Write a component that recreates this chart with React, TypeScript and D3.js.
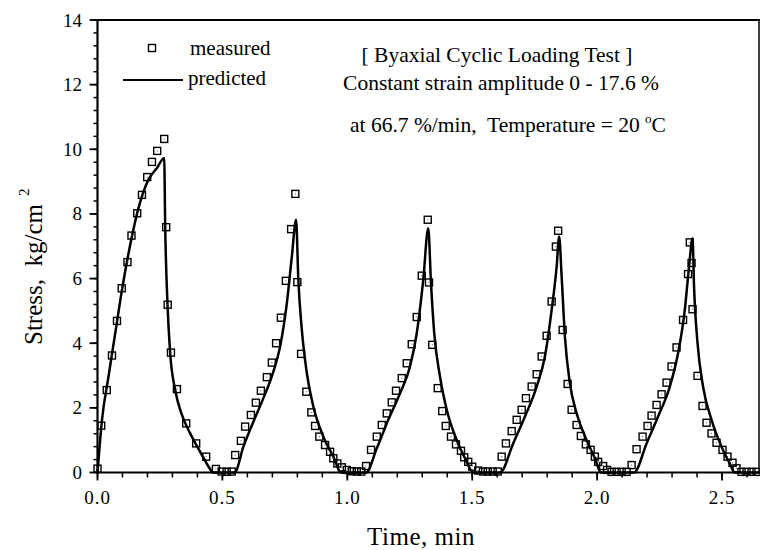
import React from 'react'
import * as d3 from 'd3'

// measured stress (kg/cm2) vs time (min)
const measuredTime = [
  0.000, 0.015, 0.037, 0.058, 0.078, 0.097, 0.120, 0.136, 0.159, 0.178, 0.199, 0.218, 0.239, 0.267,
  0.275, 0.281, 0.294, 0.318, 0.355, 0.395, 0.435, 0.474, 0.497, 0.517, 0.537,
  0.551, 0.574, 0.591, 0.614, 0.634, 0.654, 0.678, 0.698, 0.715, 0.734, 0.754, 0.775, 0.792,
  0.800, 0.815, 0.836, 0.856, 0.871, 0.888, 0.911, 0.931, 0.944, 0.960, 0.978, 0.998, 1.018, 1.038, 1.056,
  1.075, 1.095, 1.118, 1.138, 1.158, 1.178, 1.195, 1.218, 1.238, 1.258, 1.278, 1.298, 1.322,
  1.327, 1.340, 1.362, 1.380, 1.394, 1.415, 1.435, 1.455, 1.468, 1.484, 1.500, 1.524, 1.543, 1.562, 1.582, 1.602,
  1.618, 1.635, 1.658, 1.678, 1.698, 1.715, 1.738, 1.758, 1.778, 1.798, 1.818, 1.835, 1.844,
  1.862, 1.882, 1.898, 1.918, 1.935, 1.955, 1.974, 1.991, 2.004, 2.024, 2.040, 2.058, 2.078, 2.098, 2.118,
  2.138, 2.158, 2.182, 2.202, 2.218, 2.238, 2.258, 2.278, 2.298, 2.318, 2.344, 2.364, 2.371,
  2.378, 2.382, 2.402, 2.422, 2.438, 2.458, 2.478, 2.502, 2.522, 2.542, 2.558, 2.578, 2.598, 2.618, 2.638,
]
const measuredStress = [
  0.12, 1.45, 2.55, 3.62, 4.69, 5.70, 6.51, 7.33, 8.02, 8.59, 9.14, 9.61, 9.95, 10.32,
  7.59, 5.19, 3.71, 2.58, 1.52, 0.90, 0.49, 0.11, 0.03, 0.02, 0.03,
  0.54, 0.98, 1.42, 1.78, 2.16, 2.53, 2.95, 3.40, 4.00, 4.79, 5.93, 7.53, 8.62,
  5.89, 3.67, 2.50, 1.86, 1.44, 1.11, 0.85, 0.64, 0.44, 0.28, 0.16, 0.08, 0.04, 0.03, 0.03,
  0.20, 0.70, 1.11, 1.47, 1.83, 2.17, 2.53, 2.92, 3.38, 3.97, 4.81, 6.09, 7.82,
  5.88, 3.95, 2.61, 1.90, 1.44, 1.11, 0.87, 0.67, 0.47, 0.33, 0.18, 0.06, 0.03, 0.03, 0.03, 0.03,
  0.49, 0.90, 1.28, 1.63, 1.94, 2.30, 2.66, 3.04, 3.59, 4.23, 5.29, 6.99, 7.48,
  4.41, 2.74, 1.94, 1.47, 1.13, 0.87, 0.70, 0.49, 0.33, 0.20, 0.08, 0.02, 0.02, 0.02, 0.02,
  0.23, 0.72, 1.11, 1.44, 1.76, 2.09, 2.42, 2.78, 3.28, 3.87, 4.72, 6.14, 7.12,
  6.48, 5.05, 2.99, 2.06, 1.54, 1.21, 0.92, 0.70, 0.49, 0.30, 0.13, 0.02, 0.02, 0.02, 0.02,
]

// model prediction
const predictedTime = [
  0.000, 0.018, 0.044, 0.071, 0.098, 0.131, 0.164, 0.204, 0.238, 0.267,
  0.271, 0.280, 0.291, 0.311, 0.338, 0.371, 0.411, 0.451, 0.460,
  0.549, 0.584, 0.624, 0.664, 0.704, 0.731, 0.758, 0.778, 0.795,
  0.804, 0.818, 0.838, 0.864, 0.904, 0.944, 0.975,
  1.075, 1.118, 1.164, 1.211, 1.251, 1.278, 1.304, 1.324,
  1.335, 1.348, 1.371, 1.398, 1.438, 1.471, 1.504,
  1.612, 1.664, 1.711, 1.758, 1.791, 1.818, 1.838, 1.848,
  1.858, 1.871, 1.891, 1.918, 1.958, 1.991, 2.015,
  2.148, 2.198, 2.244, 2.291, 2.324, 2.351, 2.368, 2.382,
  2.388, 2.402, 2.424, 2.458, 2.498, 2.531, 2.551, 2.650,
]
const predictedStress = [
  0.00, 1.63, 2.97, 4.31, 5.65, 7.05, 8.18, 9.06, 9.42, 9.73,
  7.61, 5.24, 3.69, 2.55, 1.78, 1.21, 0.64, 0.10, 0.00,
  0.00, 0.80, 1.57, 2.30, 3.12, 3.90, 5.24, 6.68, 7.82,
  5.96, 4.41, 3.07, 2.04, 1.11, 0.49, 0.00,
  0.00, 0.75, 1.63, 2.45, 3.28, 4.31, 5.96, 7.56,
  5.86, 4.31, 2.97, 1.94, 1.00, 0.44, 0.00,
  0.00, 0.90, 1.73, 2.66, 3.59, 5.03, 6.37, 7.30,
  6.06, 4.21, 2.76, 1.83, 1.00, 0.44, 0.00,
  0.00, 0.90, 1.73, 2.66, 3.69, 5.03, 6.37, 7.25,
  5.75, 4.00, 2.66, 1.63, 0.80, 0.28, 0.00, 0.00,
]

const xMajor = [0, 0.5, 1.0, 1.5, 2.0, 2.5]
const yMajor = [0, 2, 4, 6, 8, 10, 12, 14]

const FONT = '"Liberation Serif", "Times New Roman", serif'

export default function App() {
  const x = d3.scaleLinear().domain([0, 2.65]).range([97.5, 759.5])
  const y = d3.scaleLinear().domain([0, 14]).range([472.5, 20])

  const xMinor = d3.range(0, 2.65, 0.1)
  const yMinor = d3.range(0, 14.01, 0.4)

  const predicted = predictedTime.map((t, i) => [t, predictedStress[i]] as [number, number])
  const line = d3.line<[number, number]>()
    .x(d => x(d[0]))
    .y(d => y(d[1]))
    .curve(d3.curveMonotoneX)

  return (
    <svg width={760} height={550} style={{ position: 'absolute', left: 0, top: 0, background: '#fff' }}
      fontFamily={FONT}>
      {/* frame */}
      <line x1={x(0)} x2={x(0)} y1={y(14)} y2={y(0) + 1} stroke="#000" strokeWidth={2.2} />
      <line x1={x(0) - 1} x2={760} y1={y(0)} y2={y(0)} stroke="#000" strokeWidth={2.2} />
      <line x1={x(0)} x2={760} y1={y(14)} y2={y(14)} stroke="#000" strokeWidth={2} />
      <line x1={759} x2={759} y1={y(14)} y2={y(0)} stroke="#000" strokeWidth={1.5} />

      {/* y ticks */}
      {yMinor.map((v, i) => (
        <line key={'ym' + i} x1={x(0) - 4} x2={x(0)} y1={y(v)} y2={y(v)} stroke="#000" strokeWidth={1.5} />
      ))}
      {yMajor.map(v => (
        <g key={'y' + v}>
          <line x1={x(0) - 8} x2={x(0)} y1={y(v)} y2={y(v)} stroke="#000" strokeWidth={1.8} />
          <text x={82} y={y(v) + 6.5} textAnchor="end" fontSize={19}>{v}</text>
        </g>
      ))}

      {/* x ticks */}
      {xMinor.map((v, i) => (
        <line key={'xm' + i} x1={x(v)} x2={x(v)} y1={y(0)} y2={y(0) + 5} stroke="#000" strokeWidth={1.5} />
      ))}
      {xMajor.map(v => (
        <g key={'x' + v}>
          <line x1={x(v)} x2={x(v)} y1={y(0)} y2={y(0) + 8} stroke="#000" strokeWidth={1.8} />
          <text x={x(v)} y={504} textAnchor="middle" fontSize={19} letterSpacing={1}>{v.toFixed(1)}</text>
        </g>
      ))}

      {/* axis titles */}
      <text x={421} y={545} textAnchor="middle" fontSize={25} letterSpacing={0.5}>Time, min</text>
      <text transform="translate(42,345) rotate(-90)" fontSize={25} xmlSpace="preserve">
        {'Stress,  kg/cm'}
        <tspan dx={8} dy={-13} fontSize={15}>2</tspan>
      </text>

      {/* predicted line */}
      <path d={line(predicted) || ''} fill="none" stroke="#000" strokeWidth={2.5} strokeLinejoin="round" />

      {/* measured points */}
      {measuredTime.map((t, i) => (
        <g key={'m' + i}>
          <rect x={x(t) - 3.5} y={y(measuredStress[i]) - 3.5} width={7} height={7}
            fill="none" stroke="#000" strokeWidth={1.4} />
          <rect x={x(t) - 0.5} y={y(measuredStress[i]) - 0.5} width={1} height={1} fill="#555" />
        </g>
      ))}

      {/* legend */}
      <rect x={148.5} y={44.5} width={7} height={7} fill="none" stroke="#000" strokeWidth={1.4} />
      <text x={190} y={55} fontSize={21}>measured</text>
      <line x1={123} x2={183} y1={80} y2={80} stroke="#000" strokeWidth={2.2} />
      <text x={188} y={85} fontSize={21}>predicted</text>

      {/* annotation */}
      <g fontSize={21.5} textAnchor="middle">
        <text x={497} y={62} xmlSpace="preserve">[ Byaxial Cyclic Loading Test ]</text>
        <text x={501} y={90} xmlSpace="preserve">Constant strain amplitude 0 - 17.6 %</text>
        <text x={508} y={132} xmlSpace="preserve">
          {'at 66.7 %/min,  Temperature = 20 '}
          <tspan dy={-9} fontSize={13}>o</tspan>
          <tspan dy={9}>C</tspan>
        </text>
      </g>
    </svg>
  )
}
